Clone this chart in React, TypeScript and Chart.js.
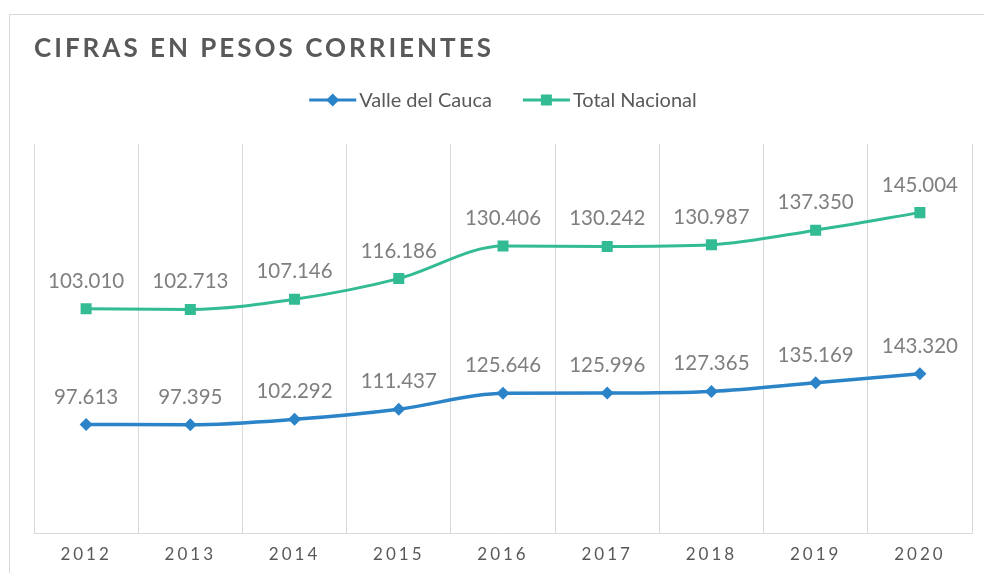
import React, { useEffect, useRef } from 'react';
import { Chart, registerables } from 'chart.js';

Chart.register(...registerables);

const years = ['2012', '2013', '2014', '2015', '2016', '2017', '2018', '2019', '2020'];
const valleDelCauca = [97613, 97395, 102292, 111437, 125646, 125996, 127365, 135169, 143320];
const totalNacional = [103010, 102713, 107146, 116186, 130406, 130242, 130987, 137350, 145004];
const seriesNames = ['Valle del Cauca', 'Total Nacional'];
const titleText = 'CIFRAS EN PESOS CORRIENTES';

const BLUE = '#2b83c8';
const GREEN = '#33bb93';
const GRID = '#d9d9d9';
const TEXT = '#595959';
const LABEL = '#7f7f7f';

const fmt = (n: number) => {
  const s = String(Math.round(n));
  return s.length > 3 ? s.slice(0, -3) + '.' + s.slice(-3) : s;
};

function drawMarker(ctx: CanvasRenderingContext2D, style: string, x: number, y: number, color: string) {
  ctx.save();
  ctx.fillStyle = color;
  ctx.beginPath();
  if (style === 'rectRot') {
    const r = 6.5;
    ctx.moveTo(x, y - r);
    ctx.lineTo(x + r, y);
    ctx.lineTo(x, y + r);
    ctx.lineTo(x - r, y);
    ctx.closePath();
  } else {
    const h = 5.5;
    ctx.rect(x - h, y - h, 2 * h, 2 * h);
  }
  ctx.fill();
  ctx.restore();
}

const customPlugin = {
  id: 'custom',
  beforeDraw(chart: any) {
    const ctx = chart.ctx as CanvasRenderingContext2D;
    ctx.save();
    ctx.fillStyle = '#ffffff';
    ctx.fillRect(0, 0, chart.width, chart.height);
    ctx.strokeStyle = GRID;
    ctx.lineWidth = 1;
    ctx.strokeRect(9.5, 14.5, 1200, 1200);
    ctx.restore();
    (ctx as any).letterSpacing = '3px';
  },
  beforeDatasetsDraw(chart: any) {
    (chart.ctx as any).letterSpacing = '0px';
  },
  afterDatasetsDraw(chart: any) {
    const ctx = chart.ctx as CanvasRenderingContext2D;
    ctx.save();
    (ctx as any).letterSpacing = '0px';
    ctx.font = '20.5px Lato';
    ctx.fillStyle = LABEL;
    ctx.textAlign = 'center';
    ctx.textBaseline = 'alphabetic';
    chart.data.datasets.forEach((ds: any, i: number) => {
      const meta = chart.getDatasetMeta(i);
      meta.data.forEach((pt: any, j: number) => {
        ctx.fillText(fmt(ds.data[j]), pt.x, pt.y - 21);
      });
    });
    ctx.restore();
  },
  afterDraw(chart: any) {
    const ctx = chart.ctx as CanvasRenderingContext2D;
    ctx.save();
    // Title
    (ctx as any).letterSpacing = '3px';
    ctx.font = 'bold 26px Lato';
    ctx.fillStyle = TEXT;
    ctx.textAlign = 'left';
    ctx.textBaseline = 'alphabetic';
    ctx.fillText(titleText, 34, 57);
    // Legend
    (ctx as any).letterSpacing = '0px';
    ctx.font = '20px Lato';
    const lineLen = 47;
    const gap = 3;
    const itemGap = 31;
    const styles = ['rectRot', 'rect'];
    const cols = [BLUE, GREEN];
    const widths = seriesNames.map((n) => lineLen + gap + ctx.measureText(n).width);
    const total = widths.reduce((a, b) => a + b, 0) + itemGap * (widths.length - 1);
    const cx = (chart.chartArea.left + chart.chartArea.right) / 2;
    let x = cx - total / 2;
    const y = 100;
    seriesNames.forEach((n, i) => {
      ctx.strokeStyle = cols[i];
      ctx.lineWidth = 3;
      ctx.beginPath();
      ctx.moveTo(x, y);
      ctx.lineTo(x + lineLen, y);
      ctx.stroke();
      drawMarker(ctx, styles[i], x + lineLen / 2, y, cols[i]);
      ctx.fillStyle = TEXT;
      ctx.textBaseline = 'middle';
      ctx.fillText(n, x + lineLen + gap, y + 1);
      x += widths[i] + itemGap;
    });
    ctx.restore();
  },
};

export default function App() {
  const ref = useRef<HTMLCanvasElement | null>(null);
  useEffect(() => {
    if (!ref.current) return;
    const chart = new Chart(ref.current, {
      type: 'line',
      data: {
        labels: years,
        datasets: [
          {
            label: seriesNames[0],
            data: valleDelCauca,
            borderColor: BLUE,
            backgroundColor: BLUE,
            borderWidth: 3.5,
            pointStyle: 'rectRot',
            pointRadius: 6.5,
            pointBorderWidth: 0,
            cubicInterpolationMode: 'monotone',
            yAxisID: 'yValle',
          },
          {
            label: seriesNames[1],
            data: totalNacional,
            borderColor: GREEN,
            backgroundColor: GREEN,
            borderWidth: 3,
            pointStyle: 'rect',
            pointRadius: 7.8,
            pointBorderWidth: 0,
            cubicInterpolationMode: 'monotone',
            yAxisID: 'yTotal',
          },
        ],
      },
      options: {
        responsive: false,
        animation: false,
        layout: { padding: { left: 34, right: 12, top: 144, bottom: 0 } },
        scales: {
          x: {
            type: 'category',
            offset: true,
            grid: { offset: true, color: GRID, lineWidth: 1, drawTicks: false },
            border: { color: GRID, width: 1 },
            ticks: {
              color: TEXT,
              font: { family: 'Lato', size: 17 },
              padding: 11,
              maxRotation: 0,
              autoSkip: false,
            },
            afterFit: (s: any) => {
              s.height = 40;
            },
          },
          yValle: { type: 'linear', position: 'left', display: false, min: 0, max: 350000 },
          yTotal: { type: 'linear', position: 'right', display: false, min: 5000, max: 175000 },
        },
        plugins: {
          legend: { display: false },
          title: { display: false },
          tooltip: { enabled: false },
        },
      },
      plugins: [customPlugin],
    });
    return () => chart.destroy();
  }, []);
  return (
    <div style={{ position: 'fixed', left: 0, top: 0, width: 984, height: 573, overflow: 'hidden', background: '#fff' }}>
      <canvas ref={ref} width={984} height={573} />
    </div>
  );
}
